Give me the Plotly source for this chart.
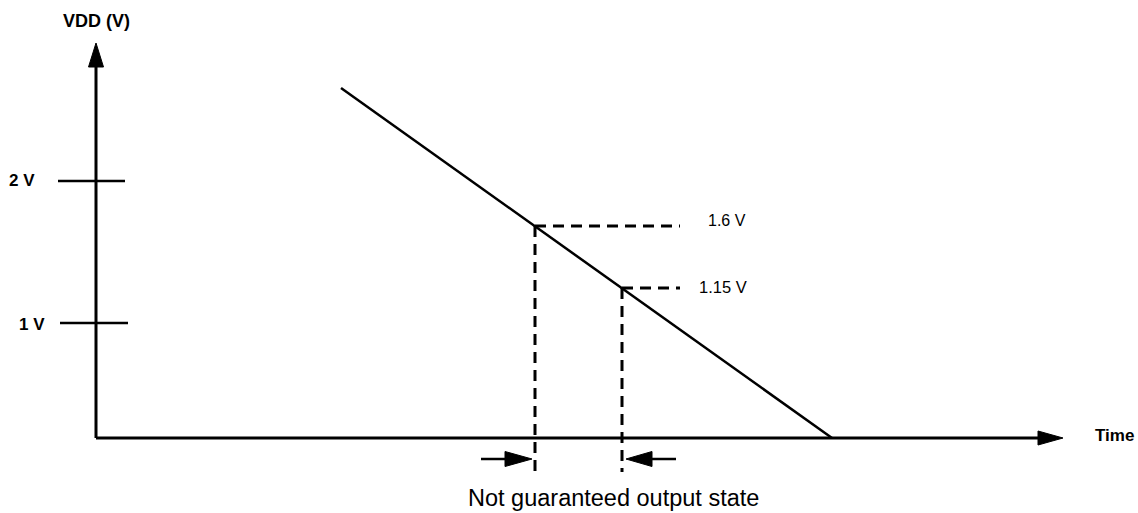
import plotly.graph_objects as go

# Diagram coordinates: x = time units from the VDD axis, y = height units above the time axis
ramp_t = [245, 736]          # VDD ramp-down line (time)
ramp_v = [350, 0]            # VDD ramp-down line (height)
level_names = ["1.6 V", "1.15 V"]
level_t = [439, 526]         # where the ramp crosses each threshold
level_v = [212, 150]         # threshold heights
level_end_t = 584            # end of dashed horizontal guides
guide_bottom = -34           # bottom of dashed vertical guides
tick_names = ["2 V", "1 V"]
tick_v = [257, 115]
tick_t0 = [-38, -36]
tick_t1 = [29, 32]
axis_end_t = 967
axis_end_v = 395

FONT = "Liberation Sans, Arial, sans-serif"
BLACK = "#000000"

fig = go.Figure()

def line(xs, ys, width=2.5, dash=None):
    fig.add_trace(go.Scatter(x=xs, y=ys, mode="lines",
                             line=dict(color=BLACK, width=width, dash=dash),
                             hoverinfo="skip", showlegend=False))

def tri(xs, ys):
    fig.add_trace(go.Scatter(x=xs + [xs[0]], y=ys + [ys[0]], mode="lines",
                             fill="toself", fillcolor=BLACK,
                             line=dict(color=BLACK, width=1),
                             hoverinfo="skip", showlegend=False))

# axes
line([0, 0], [0, axis_end_v - 24], width=3)
tri([0 - 7.5, 0 + 7.5, 0], [axis_end_v - 24, axis_end_v - 24, axis_end_v])
line([0, axis_end_t - 25], [0, 0], width=3)
tri([axis_end_t - 25, axis_end_t - 25, axis_end_t], [7, -7, 0])

# ticks
for t0, t1, v in zip(tick_t0, tick_t1, tick_v):
    line([t0, t1], [v, v], width=2.5)

# ramp
line(ramp_t, ramp_v, width=2.5)

# dashed guides
for t, v in zip(level_t, level_v):
    line([t, level_end_t], [v, v], width=3, dash="11px,7px")
    line([t, t], [v, guide_bottom], width=3, dash="11px,7px")

# small pointer arrows
arrow_v = -21
line([385, 410], [arrow_v, arrow_v], width=2.5)
tri([409, 409, 436], [arrow_v + 7.5, arrow_v - 7.5, arrow_v])
line([580, 555], [arrow_v, arrow_v], width=2.5)
tri([556, 556, 530], [arrow_v + 7.5, arrow_v - 7.5, arrow_v])

ann = []
ann.append(dict(x=0, y=417, text="<b>VDD (V)</b>", xanchor="center", yanchor="middle",
                font=dict(size=18, family=FONT, color=BLACK)))
ann.append(dict(x=-59, y=tick_v[0] + 1, text="<b>" + tick_names[0] + "</b>", xanchor="right",
                yanchor="middle", font=dict(size=17, family=FONT, color=BLACK)))
ann.append(dict(x=-49, y=tick_v[1] - 1, text="<b>" + tick_names[1] + "</b>", xanchor="right",
                yanchor="middle", font=dict(size=17, family=FONT, color=BLACK)))
ann.append(dict(x=997, y=3, text="<b>Time</b>", xanchor="left", yanchor="middle",
                font=dict(size=17, family=FONT, color=BLACK)))
ann.append(dict(x=610, y=level_v[0] + 6, text=level_names[0], xanchor="left", yanchor="middle",
                font=dict(size=16, family=FONT, color=BLACK)))
ann.append(dict(x=601, y=level_v[1] + 1, text=level_names[1], xanchor="left", yanchor="middle",
                font=dict(size=16.5, family=FONT, color=BLACK)))
ann.append(dict(x=517, y=-60, text="Not guaranteed output state", xanchor="center",
                yanchor="middle", font=dict(size=23.5, family=FONT, color=BLACK)))
for a in ann:
    a.update(xref="x", yref="y", showarrow=False)

fig.update_layout(
    width=1138, height=513,
    margin=dict(l=0, r=0, t=0, b=0),
    paper_bgcolor="white", plot_bgcolor="white",
    xaxis=dict(range=[-96, 1042], visible=False, fixedrange=True),
    yaxis=dict(range=[-75, 438], visible=False, fixedrange=True),
    annotations=ann,
    showlegend=False,
)
fig.write_html("out.html", config={"displayModeBar": False},
               post_script="document.body.style.margin='0';document.body.style.overflow='hidden';")
